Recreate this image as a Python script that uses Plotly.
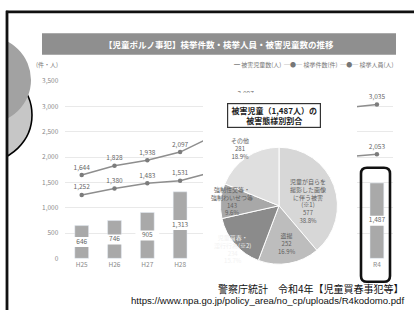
import plotly.graph_objects as go

W, H = 414, 313

# ---------------- data ----------------
categories = ["H25", "H26", "H27", "H28", "H29", "H30", "R1", "R2", "R3", "R4"]
victims = [646, 746, 905, 1313, 1216, 1276, 1559, 1320, 1458, 1487]      # 被害児童数(人)
cases = [1644, 1828, 1938, 2097, 2413, 3097, 3059, 2757, 2969, 3035]     # 検挙件数(件)
persons = [1252, 1380, 1483, 1531, 1703, 2315, 2105, 1991, 1999, 2053]   # 検挙人員(人)
y_ticks = [0, 500, 1000, 1500, 2000, 2500, 3000, 3500]

# categories whose labels are hidden behind the pasted pie panel
covered = ["H29", "H30", "R1", "R2", "R3"]
covered_cases = ["H29", "R2", "R3"]

pie_labels = ["児童が自らを<br>撮影した画像<br>に伴う被害<br>(※1)", "盗撮",
              "児童買春・<br>淫行行為(※2)", "強制性交等・<br>強制わいせつ等", "その他"]
pie_values = [577, 252, 234, 143, 281]

title_text = "【児童ポルノ事犯】検挙件数・検挙人員・被害児童数の推移"
legend_text = "━ 被害児童数(人)  ─●─ 検挙件数(件)  ─●─ 検挙人員(人)"
source_text = "警察庁統計　令和4年【児童買春事犯等】"
url_text = "https://www.npa.go.jp/policy_area/no_cp/uploads/R4kodomo.pdf"

FONT = "Noto Sans CJK JP, Noto Sans, sans-serif"


def px(x):
    return x / W


def py(y):
    return 1 - y / H


def labels_for(vals, hidden):
    return ["" if c in hidden else f"{v:,}" for c, v in zip(categories, vals)]


def note(x, y, text, size, color, xanchor="center", family=FONT, **kw):
    d = dict(x=px(x), y=py(y), xref="paper", yref="paper", showarrow=False,
             xanchor=xanchor, yanchor="middle", text=text,
             font=dict(size=size, color=color, family=family))
    d.update(kw)
    return d


fig = go.Figure()

# bars
fig.add_trace(go.Bar(x=categories, y=victims, marker_color="#a9a9a9", width=0.42,
                     showlegend=False, hoverinfo="skip"))
# bar value labels on white band
fig.add_trace(go.Scatter(
    x=categories, y=[v / 2 for v in victims], mode="markers+text",
    text=labels_for(victims, covered), textposition="middle center",
    textfont=dict(size=6.5, color="#666666", family=FONT),
    marker=dict(symbol="line-ew", size=17, line=dict(width=10, color="white")),
    showlegend=False, hoverinfo="skip"))
# lines
for series, hidden in ((cases, covered_cases), (persons, covered)):
    fig.add_trace(go.Scatter(
        x=categories, y=series, mode="lines+markers+text",
        text=labels_for(series, hidden), textposition="top center",
        textfont=dict(size=6.5, color="#666666", family=FONT),
        line=dict(color="#8e8e8e", width=1.5),
        marker=dict(size=4.5, color="#7c7c7c"),
        showlegend=False, hoverinfo="skip"))

# inset subplot used as a white cover (pasted slide region)
fig.add_trace(go.Scatter(x=[0], y=[0], xaxis="x2", yaxis="y2", mode="markers",
                         marker=dict(opacity=0), showlegend=False, hoverinfo="skip"))

# pie
pie_colors = ["#d7d7d7", "#bdbdbd", "#8b8b8b", "#a8a8a8", "#dfdfdf"]
pcx, pcy, pr = 279, 206, 60
fig.add_trace(go.Pie(
    labels=pie_labels, values=pie_values, sort=False, direction="clockwise", rotation=0,
    marker=dict(colors=pie_colors, line=dict(color="white", width=1)),
    textinfo="none", hoverinfo="skip", showlegend=False,
    domain=dict(x=[px(pcx - pr), px(pcx + pr)], y=[py(pcy + pr), py(pcy - pr)])))

total = sum(pie_values)
pie_label_pos = [(308, 201), (287, 245), (233, 250), (232, 201), (240, 147)]
pie_text_colors = ["#5e5e5e", "#5e5e5e", "#f2f2f2", "#5e5e5e", "#5e5e5e"]

annotations = []
for lab, val, (lx, ly), col in zip(pie_labels, pie_values, pie_label_pos, pie_text_colors):
    annotations.append(note(lx, ly, f"{lab}<br>{val}<br>{val / total * 100:.1f}%", 6, col,
                            align="center"))

annotations += [
    note(219, 40, f"<b>{title_text}</b>", 8.5, "#ffffff"),
    note(34, 61, "(件・人)", 6, "#777777", xanchor="left"),
    note(396, 61, legend_text, 6, "#777777", xanchor="right"),
    note(274, 113, f"<b>被害児童（{total:,}人）の<br>被害態様別割合</b>", 8, "#222222",
         bgcolor="white", bordercolor="#333333", borderwidth=1.2, width=90, height=21,
         borderpad=1),
    note(406, 291, source_text, 10, "#111111", xanchor="right"),
    note(406, 303, url_text, 9.6, "#111111", xanchor="right", family="Liberation Sans, Arial"),
]


def rounded_rect(x0, y0, x1, y1, r):
    pts = [
        f"M{px(x0 + r)},{py(y0)}", f"L{px(x1 - r)},{py(y0)}",
        f"Q{px(x1)},{py(y0)} {px(x1)},{py(y0 + r)}", f"L{px(x1)},{py(y1 - r)}",
        f"Q{px(x1)},{py(y1)} {px(x1 - r)},{py(y1)}", f"L{px(x0 + r)},{py(y1)}",
        f"Q{px(x0)},{py(y1)} {px(x0)},{py(y1 - r)}", f"L{px(x0)},{py(y0 + r)}",
        f"Q{px(x0)},{py(y0)} {px(x0 + r)},{py(y0)}", "Z"]
    return " ".join(pts)


def circle(cx, cy, r, fill, lw, lc="black"):
    return dict(type="circle", xref="paper", yref="paper",
                x0=px(cx - r), x1=px(cx + r), y0=py(cy + r), y1=py(cy - r),
                fillcolor=fill, line=dict(width=lw, color=lc), layer="above")


shapes = [
    # title bar
    dict(type="rect", xref="paper", yref="paper", x0=px(42), x1=px(396), y0=py(51), y1=py(29),
         fillcolor="#8f8f8f", line=dict(width=0), layer="below"),
    # left partial pie of another slide
    circle(-16, 113, 48, "#c6c6c6", 1.6),
    circle(-14, 77, 45, "#a2a2a2", 0, "rgba(0,0,0,0)"),
    dict(type="rect", xref="paper", yref="paper", x0=px(-2), x1=px(6.5), y0=0, y1=1,
         fillcolor="white", line=dict(width=0), layer="above"),
    # frame
    dict(type="line", xref="paper", yref="paper", x0=px(7), x1=px(7), y0=0, y1=py(6),
         line=dict(width=2.8, color="#111111"), layer="above"),
    dict(type="line", xref="paper", yref="paper", x0=px(6), x1=1, y0=py(7), y1=py(7),
         line=dict(width=2.8, color="#111111"), layer="above"),
    # highlight box around R4
    dict(type="path", xref="paper", yref="paper", path=rounded_rect(361, 167, 390, 284, 6),
         line=dict(width=2.6, color="#111111"), layer="above"),
]

# axis geometry
step = 32.8
x_left = 81.7 - step / 2
x_right = x_left + step * len(categories)
pxu = 0.052  # pixels per unit
y0pix = 260
ymin, ymax = -15, 3515

fig.update_layout(
    width=W, height=H, margin=dict(l=0, r=0, t=0, b=0),
    paper_bgcolor="white", plot_bgcolor="white",
    font=dict(family=FONT),
    barmode="overlay", showlegend=False,
    xaxis=dict(domain=[px(x_left), px(x_right)], range=[-0.5, len(categories) - 0.5],
               type="category", showgrid=False, zeroline=False, showline=False, ticks="",
               tickvals=categories,
               ticktext=["" if c in covered else c for c in categories],
               tickfont=dict(size=6.5, color="#8a8a8a", family=FONT), fixedrange=True),
    yaxis=dict(domain=[py(y0pix - ymin * pxu), py(y0pix - ymax * pxu)], range=[ymin, ymax],
               tickvals=y_ticks, tickformat=",", showgrid=True, gridcolor="#e9e9e9",
               gridwidth=1, zeroline=False, showline=False, ticks="",
               ticklabelstandoff=6,
               tickfont=dict(size=6.5, color="#8a8a8a", family=FONT), fixedrange=True),
    xaxis2=dict(domain=[px(203), px(357)], anchor="y2", visible=False, range=[0, 1]),
    yaxis2=dict(domain=[py(282), py(90)], anchor="x2", visible=False, range=[0, 1]),
    annotations=annotations, shapes=shapes,
)

fig.write_html("out.html", config={"displayModeBar": False, "staticPlot": True},
               post_script="document.body.style.margin='0px';"
                           "document.body.style.overflow='hidden';")
